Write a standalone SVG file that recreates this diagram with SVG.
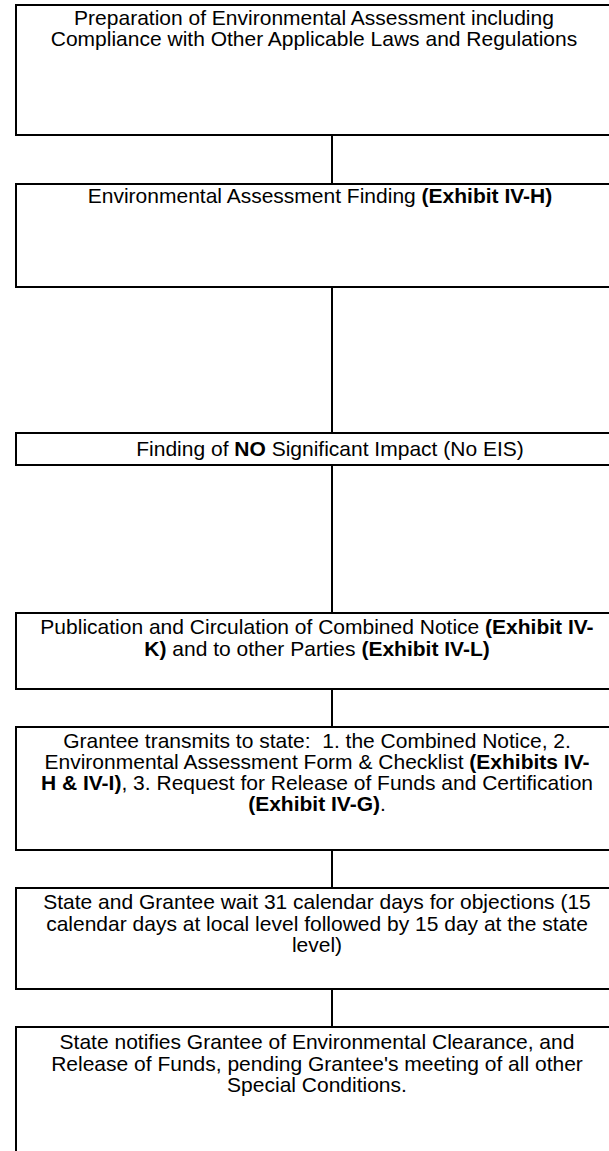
<svg xmlns="http://www.w3.org/2000/svg" width="609" height="1151" viewBox="0 0 609 1151">
<style>
.box{fill:#fff;stroke:#000;stroke-width:2}
.conn{stroke:#000;stroke-width:2;fill:none}
text{font-family:"Liberation Sans",Arial,sans-serif;font-size:21px;fill:#000;text-anchor:middle}
.b{font-weight:bold}
</style>
<rect x="0" y="0" width="609" height="1151" fill="#fff"/>
<g id="connectors">
<line class="conn" x1="332" y1="135" x2="332" y2="184"/>
<line class="conn" x1="332" y1="287" x2="332" y2="433"/>
<line class="conn" x1="332" y1="465" x2="332" y2="613"/>
<line class="conn" x1="332" y1="689" x2="332" y2="727"/>
<line class="conn" x1="332" y1="850" x2="332" y2="888"/>
<line class="conn" x1="332" y1="989" x2="332" y2="1027"/>
</g>
<g id="n1">
<rect class="box" x="16" y="5" width="604" height="130"/>
<text x="314" y="24.5">Preparation of Environmental Assessment including</text>
<text x="314" y="46">Compliance with Other Applicable Laws and Regulations</text>
</g>
<g id="n2">
<rect class="box" x="16" y="184" width="604" height="103"/>
<text x="320" y="203">Environmental Assessment Finding <tspan class="b">(Exhibit IV-H)</tspan></text>
</g>
<g id="n3">
<rect class="box" x="16" y="433" width="604" height="32"/>
<text x="330" y="456">Finding of <tspan class="b">NO</tspan> Significant Impact (No EIS)</text>
</g>
<g id="n4">
<rect class="box" x="16" y="613" width="604" height="76"/>
<text x="317" y="634">Publication and Circulation of Combined Notice <tspan class="b">(Exhibit IV-</tspan></text>
<text x="317" y="655.5"><tspan class="b">K)</tspan> and to other Parties <tspan class="b">(Exhibit IV-L)</tspan></text>
</g>
<g id="n5">
<rect class="box" x="16" y="727" width="604" height="123"/>
<text x="317" y="748" xml:space="preserve">Grantee transmits to state:  1. the Combined Notice, 2.</text>
<text x="317" y="769">Environmental Assessment Form &amp; Checklist <tspan class="b">(Exhibits IV-</tspan></text>
<text x="317" y="790"><tspan class="b">H &amp; IV-I)</tspan>, 3. Request for Release of Funds and Certification</text>
<text x="317" y="811"><tspan class="b">(Exhibit IV-G)</tspan>.</text>
</g>
<g id="n6">
<rect class="box" x="16" y="888" width="604" height="101"/>
<text x="317" y="909">State and Grantee wait 31 calendar days for objections (15</text>
<text x="317" y="930.5">calendar days at local level followed by 15 day at the state</text>
<text x="317" y="952">level)</text>
</g>
<g id="n7">
<rect class="box" x="16" y="1027" width="604" height="140"/>
<text x="317" y="1049">State notifies Grantee of Environmental Clearance, and</text>
<text x="317" y="1070.5">Release of Funds, pending Grantee's meeting of all other</text>
<text x="317" y="1092">Special Conditions.</text>
</g>
</svg>
